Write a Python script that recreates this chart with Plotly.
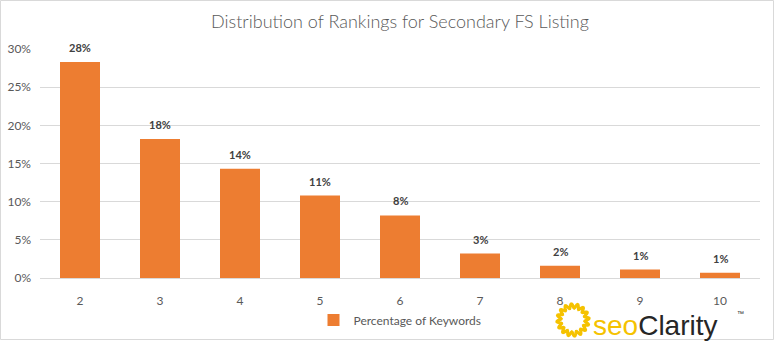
import numpy as np
import plotly.graph_objects as go

# Ranking position of the secondary featured-snippet listing
positions = ["2", "3", "4", "5", "6", "7", "8", "9", "10"]
# Share of keywords at each position (fraction)
share = [0.283, 0.182, 0.143, 0.108, 0.082, 0.032, 0.016, 0.011, 0.007]

series_name = "Percentage of Keywords"
title_text = "Distribution of Rankings for Secondary FS Listing"
y_ticks = [0, 0.05, 0.10, 0.15, 0.20, 0.25, 0.30]

BAR = "#ED7D31"
GRID = "#D9D9D9"
TXT = "#595959"
FONT = "Lato"

fig = go.Figure()
fig.add_trace(go.Bar(
    x=positions, y=share, name=series_name,
    marker=dict(color=BAR, line=dict(width=0)),
    hovertemplate="%{x}: %{y:.0%}<extra></extra>",
))

# value labels above each bar (category axis: place by index)
for i, v in enumerate(share):
    fig.add_annotation(
        x=i, y=v, xref="x", yref="y", text=f"{v:.0%}",
        showarrow=False, yanchor="bottom", yshift=6,
        font=dict(family=FONT, size=11, color="#404040", weight="bold"),
    )

PL, PR, PT, PB = 40, 15, 49, 63
W, H = 775, 341
pw, ph = W - PL - PR, H - PT - PB

# light outer frame of the chart
fig.add_shape(
    type="rect", xref="paper", yref="paper", layer="below",
    x0=(0.5 - PL) / pw, x1=(W - 1.5 - PL) / pw,
    y0=(PT + ph - (H - 1.5)) / ph, y1=(PT + ph - 0.5) / ph,
    line=dict(color=GRID, width=1), fillcolor="rgba(0,0,0,0)",
)

# seoClarity brand mark: wavy sun ring
ang = np.linspace(0, 2 * np.pi, 181)
rad = 14 + 2.2 * np.sin(ang * 16)
pts = [(rad[i] * np.cos(a), rad[i] * np.sin(a)) for i, a in enumerate(ang)]
sun_path = "M " + " L ".join(f"{px:.2f},{py:.2f}" for px, py in pts) + " Z"
sun_cx = (573 - PL) / pw
sun_cy = (PT + ph - 320) / ph
fig.add_shape(
    type="path", xref="paper", yref="paper",
    xsizemode="pixel", ysizemode="pixel",
    xanchor=sun_cx, yanchor=sun_cy, path=sun_path,
    line=dict(color="#F5C200", width=3), fillcolor="rgba(0,0,0,0)",
)
fig.add_annotation(
    xref="paper", yref="paper", x=(591 - PL) / pw, y=(PT + ph - 325) / ph,
    xanchor="left", yanchor="middle", showarrow=False,
    text="<span style='color:#F5C200'>seo</span><span style='color:#262626'>Clarity</span>",
    font=dict(family="Liberation Sans", size=28, weight=300),
)
fig.add_annotation(
    xref="paper", yref="paper", x=(735 - PL) / pw, y=(PT + ph - 313) / ph,
    xanchor="left", yanchor="middle", showarrow=False, text="™",
    font=dict(family="Liberation Sans", size=7, color="#262626"),
)

fig.update_layout(
    width=W, height=H,
    margin=dict(l=PL, r=PR, t=PT, b=PB, autoexpand=False),
    paper_bgcolor="white", plot_bgcolor="white",
    title=dict(text=title_text, x=0.5, xref="paper", xanchor="center",
               y=1 - 22 / H, yanchor="middle",
               font=dict(family=FONT, size=18, color=TXT, weight=300)),
    bargap=0.5,
    showlegend=True,
    legend=dict(orientation="h", x=0.5, xanchor="center", xref="paper",
                y=(PT + ph - 320) / ph, yanchor="middle",
                font=dict(family=FONT, size=12, color=TXT),
                itemwidth=30, bgcolor="rgba(0,0,0,0)"),
    font=dict(family=FONT, color=TXT),
)
fig.update_xaxes(
    type="category", showgrid=False, showline=True, linecolor=GRID, linewidth=1,
    ticks="", tickfont=dict(family=FONT, size=12, color=TXT),
    ticklabelstandoff=12, zeroline=False, automargin=False,
)
fig.update_yaxes(
    range=[0, 0.30], tickvals=y_ticks, tickformat=".0%",
    showgrid=True, gridcolor=GRID, gridwidth=1, zeroline=False,
    showline=False, ticks="", tickfont=dict(family=FONT, size=12, color=TXT),
    ticklabelstandoff=8, automargin=False,
)

fig.write_html("out.html")
